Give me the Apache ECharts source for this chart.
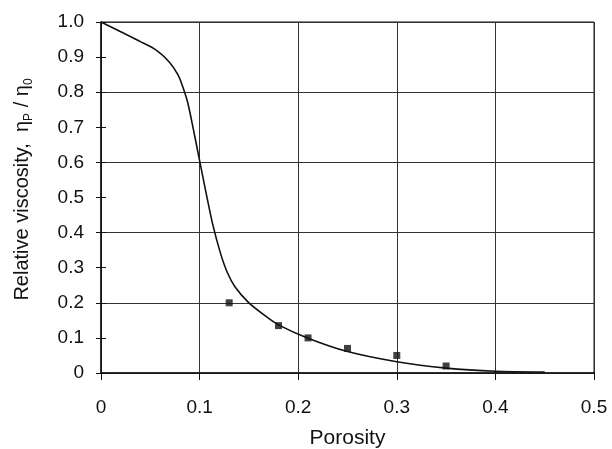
<!DOCTYPE html>
<html>
<head>
<meta charset="utf-8">
<script src="https://cdn.jsdelivr.net/npm/echarts@6/dist/echarts.min.js"></script>
<style>
html,body{margin:0;padding:0;background:#fff;}
#c{width:612px;height:449px;}
</style>
</head>
<body>
<div id="c"></div>
<script>
// Model curve
var curveX = [0, 0.02, 0.04, 0.056, 0.069, 0.078, 0.083, 0.088, 0.094, 0.1, 0.106, 0.113, 0.121, 0.128, 0.136, 0.15, 0.167, 0.18, 0.21, 0.25, 0.3, 0.35, 0.4, 0.45];
var curveY = [1.0, 0.972, 0.944, 0.92, 0.887, 0.85, 0.815, 0.77, 0.69, 0.605, 0.521, 0.427, 0.343, 0.287, 0.245, 0.2, 0.162, 0.137, 0.099, 0.061, 0.032, 0.014, 0.005, 0.003];
// Measured points
var pointX = [0.13, 0.18, 0.21, 0.25, 0.30, 0.35];
var pointY = [0.20, 0.135, 0.10, 0.07, 0.05, 0.02];

var curve = curveX.map(function(x, i){ return [x, curveY[i]]; });
var points = pointX.map(function(x, i){ return [x, pointY[i]]; });

var font = 'Liberation Sans, Arial, sans-serif';
var ink = '#111';
var fmt = function(v){ return v === 0 ? '0' : v.toFixed(1); };

var chart = echarts.init(document.getElementById('c'), null, {renderer: 'canvas'});
chart.setOption({
  animation: false,
  backgroundColor: '#fff',
  grid: {left: 101, right: 18, top: 22, bottom: 76, show: true, borderColor: ink, borderWidth: 1,
         containLabel: false, outerBoundsMode: 'none'},
  xAxis: [{
    type: 'value', min: 0, max: 0.5, interval: 0.1,
    name: 'Porosity', nameLocation: 'middle', nameGap: 55,
    nameTextStyle: {fontFamily: font, fontSize: 21, color: ink},
    axisLine: {show: true, onZero: false, lineStyle: {color: ink, width: 1.5}},
    axisTick: {show: true, length: 7, lineStyle: {color: ink}},
    axisLabel: {formatter: fmt, fontFamily: font, fontSize: 19, color: ink, margin: 25},
    splitLine: {show: true, lineStyle: {color: '#333', width: 1}}
  }],
  yAxis: [{
    type: 'value', min: 0, max: 1, interval: 0.1,
    name: 'Relative viscosity,  η{sub|P} / η{sub|0}', nameLocation: 'middle', nameGap: 66,
    nameTextStyle: {fontFamily: font, fontSize: 20, color: ink, lineHeight: 25, padding: [0, 0, 0, 16],
      rich: {sub: {fontFamily: font, fontSize: 12, color: ink, verticalAlign: 'bottom', lineHeight: 25}}},
    axisLine: {show: true, onZero: false, lineStyle: {color: ink, width: 1.5}},
    axisTick: {show: true, length: 5, lineStyle: {color: ink}},
    axisLabel: {formatter: fmt, fontFamily: font, fontSize: 19, color: ink, margin: 17},
    splitLine: {show: false}
  }, {
    type: 'value', min: 0, max: 1, interval: 0.1, position: 'left',
    axisLine: {show: false},
    axisTick: {show: true, inside: true, length: 5, lineStyle: {color: ink}},
    axisLabel: {show: false},
    splitLine: {show: false}
  }, {
    type: 'value', min: 0, max: 1, interval: 0.2, position: 'left',
    axisLine: {show: false},
    axisTick: {show: false},
    axisLabel: {show: false},
    splitLine: {show: true, lineStyle: {color: '#333', width: 1}}
  }],
  series: [{
    type: 'line', data: curve, smooth: 0.25, showSymbol: false, yAxisIndex: 0,
    lineStyle: {color: ink, width: 1.6}, z: 3
  }, {
    type: 'scatter', data: points, symbol: 'rect', symbolSize: 7, yAxisIndex: 0,
    itemStyle: {color: ink}, z: 4
  }]
});
</script>
</body>
</html>
